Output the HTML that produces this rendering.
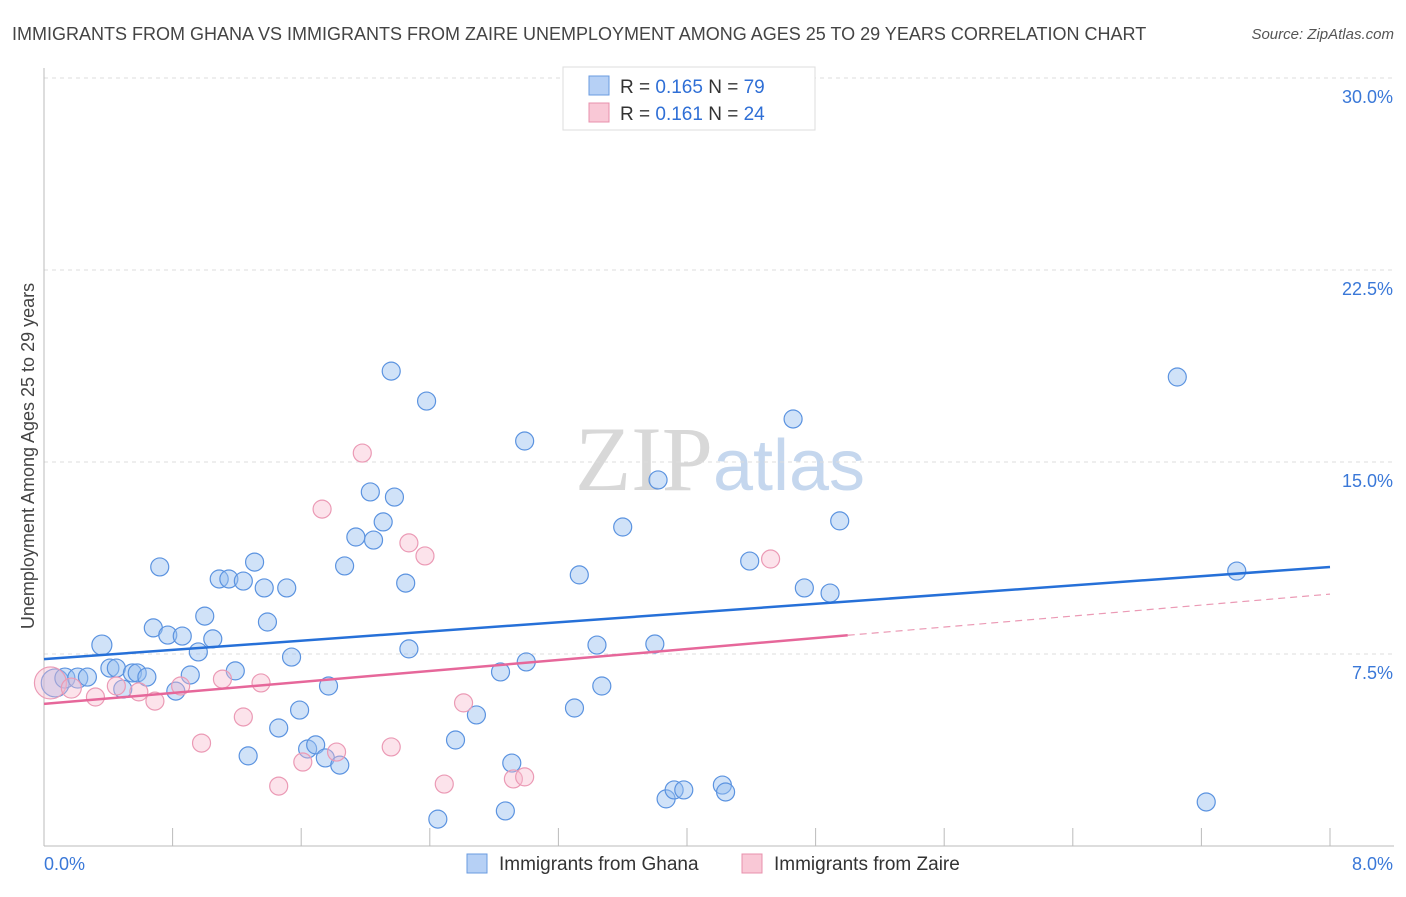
<!DOCTYPE html>
<html><head><meta charset="utf-8"><style>
body{margin:0;background:#fff;font-family:"Liberation Sans",sans-serif}
svg text{font-family:"Liberation Sans",sans-serif}
</style></head><body>
<svg id="chart" width="1406" height="892" viewBox="0 0 1406 892" xmlns="http://www.w3.org/2000/svg">
<text x="12" y="40" font-size="18" fill="#444">IMMIGRANTS FROM GHANA VS IMMIGRANTS FROM ZAIRE UNEMPLOYMENT AMONG AGES 25 TO 29 YEARS CORRELATION CHART</text>
<text x="1394" y="39" font-size="15" fill="#555" text-anchor="end" font-style="italic">Source: ZipAtlas.com</text>
<text x="720" y="490" text-anchor="middle" font-size="92" font-family="Liberation Serif"><tspan fill="#d8d8d8" font-family="Liberation Serif">ZIP</tspan><tspan fill="#c5d7ee" font-family="Liberation Sans" font-size="72">atlas</tspan></text>
<g id="grid"></g>
<g id="axes"></g>
<g id="marks"></g>
<g>
<rect x="563" y="67" width="252" height="63" fill="#fff" stroke="#ddd"/>
<rect x="589" y="76" width="20" height="19" fill="#b6d0f5" stroke="#6a9be0"/>
<rect x="589" y="103" width="20" height="19" fill="#f9c8d6" stroke="#e890ac"/>
<text x="620" y="93" font-size="19" fill="#333">R = <tspan fill="#2f6fd6">0.165</tspan>   N = <tspan fill="#2f6fd6">79</tspan></text>
<text x="620" y="120" font-size="19" fill="#333">R =  <tspan fill="#2f6fd6">0.161</tspan>   N = <tspan fill="#2f6fd6">24</tspan></text>
</g>
<g>
<rect x="467" y="854" width="20" height="19" fill="#b6d0f5" stroke="#6a9be0"/>
<text x="499" y="870" font-size="19" fill="#333">Immigrants from Ghana</text>
<rect x="742" y="854" width="20" height="19" fill="#f9c8d6" stroke="#e890ac"/>
<text x="774" y="870" font-size="19" fill="#333">Immigrants from Zaire</text>
</g>
<text transform="translate(34,456) rotate(-90)" text-anchor="middle" font-size="18" fill="#444">Unemployment Among Ages 25 to 29 years</text>
</svg>
<script>
const yTicks=[7.5,15,22.5,30];
const yTickLabels=["7.5%","15.0%","22.5%","30.0%"];
const xTicks=[0,0.8,1.6,2.4,3.2,4,4.8,5.6,6.4,7.2,8];
const xEndLabels=["0.0%","8.0%"];
const ghanaX=[0.07,0.13,0.21,0.27,0.36,0.41,0.45,0.49,0.55,0.58,0.64,0.68,0.72,0.77,0.82,0.86,0.91,0.96,1.00,1.05,1.09,1.15,1.19,1.24,1.27,1.31,1.37,1.39,1.46,1.51,1.54,1.59,1.64,1.69,1.75,1.77,1.84,1.87,1.94,2.03,2.05,2.11,2.16,2.18,2.25,2.27,2.38,2.45,2.56,2.69,2.84,2.87,2.91,2.99,3.00,3.30,3.33,3.44,3.47,3.60,3.80,3.82,3.87,3.92,3.98,4.22,4.24,4.39,4.66,4.73,4.89,4.95,7.05,7.23,7.42];
const ghanaY=[6.37,6.56,6.56,6.60,7.85,6.95,6.95,6.13,6.76,6.76,6.60,8.52,10.90,8.24,6.05,8.20,6.68,7.58,8.98,8.09,10.43,10.43,6.84,10.35,3.52,11.09,10.08,8.75,4.61,10.08,7.38,5.31,3.79,3.95,3.44,6.25,3.16,10.94,12.07,13.83,11.95,12.66,18.55,13.63,10.27,7.70,17.38,1.05,4.14,5.12,6.80,1.37,3.24,15.82,7.19,5.39,10.59,7.85,6.25,12.46,7.89,14.30,1.84,2.19,2.19,2.38,2.11,11.13,16.68,10.08,9.88,12.70,18.32,1.72,10.74];
const ghanaSize=[14,10,10,9,10,9,9,9,9,9,9,9,9,9,9,9,9,9,9,9,9,9,9,9,9,9,9,9,9,9,9,9,9,9,9,9,9,9,9,9,9,9,9,9,9,9,9,9,9,9,9,9,9,9,9,9,9,9,9,9,9,9,9,9,9,9,9,9,9,9,9,9,9,9,9];
const zaireX=[0.04,0.17,0.32,0.45,0.59,0.69,0.85,0.98,1.11,1.24,1.35,1.46,1.61,1.73,1.82,1.98,2.16,2.27,2.37,2.49,2.61,2.92,2.99,4.52];
const zaireY=[6.37,6.17,5.82,6.25,6.02,5.66,6.25,4.02,6.52,5.04,6.37,2.34,3.28,13.16,3.67,15.35,3.87,11.84,11.33,2.42,5.59,2.62,2.70,11.21];
const zaireSize=[16,10,9,9,9,9,9,9,9,9,9,9,9,9,9,9,9,9,9,9,9,9,9,9];
const ghanaTrend=[7.30,10.90];
const zaireTrend=[5.55,9.84];
const zaireSolidEnd=5.0;

const X0=44,X1=1330,Y0=846,Y1=78;
const xs=v=>X0+(v/8)*(X1-X0);
const ys=v=>Y0-(v/30)*(Y0-Y1);
const NS="http://www.w3.org/2000/svg";
function mk(tag,attrs,parent){const e=document.createElementNS(NS,tag);for(const k in attrs)e.setAttribute(k,attrs[k]);parent.appendChild(e);return e;}
const grid=document.getElementById('grid'),axes=document.getElementById('axes'),marks=document.getElementById('marks');
yTicks.forEach((t,i)=>{
  const g=mk('line',{x1:X0,x2:1394,y1:ys(t),y2:ys(t),stroke:'#ddd','stroke-dasharray':'4,4'},grid);
  
  
  const l=mk('text',{x:1393,y:ys(t)+25,'text-anchor':'end','font-size':18,fill:'#3a78d8'},axes);
  l.textContent=yTickLabels[i];
  
  
});
const ax=mk('line',{x1:X0,x2:X0,y1:68,y2:Y0,stroke:'#bbb'},axes);


const bx=mk('line',{x1:X0,x2:1394,y1:Y0,y2:Y0,stroke:'#bbb'},axes);


xTicks.forEach(t=>{
  const tk=mk('line',{x1:xs(t),x2:xs(t),y1:Y0,y2:Y0-18,stroke:'#bbb'},axes);
  
  
});
const xl0=mk('text',{x:44,y:870,'font-size':18,fill:'#3a78d8'},axes);xl0.textContent=xEndLabels[0];


const xl1=mk('text',{x:1393,y:870,'text-anchor':'end','font-size':18,fill:'#3a78d8'},axes);xl1.textContent=xEndLabels[1];


ghanaX.forEach((x,i)=>{
  const c=mk('circle',{cx:xs(x),cy:ys(ghanaY[i]),r:ghanaSize[i],fill:'rgba(150,190,240,0.45)',stroke:'#5b93e0','stroke-width':1.2},marks);
  
  
});
zaireX.forEach((x,i)=>{
  const c=mk('circle',{cx:xs(x),cy:ys(zaireY[i]),r:zaireSize[i],fill:'rgba(248,185,205,0.4)',stroke:'#eb9ab5','stroke-width':1.2},marks);
  
  
});
const zt=v=>zaireTrend[0]+(zaireTrend[1]-zaireTrend[0])*v/8;
const bl=mk('line',{x1:xs(0),y1:ys(ghanaTrend[0]),x2:xs(8),y2:ys(ghanaTrend[1]),stroke:'#2670d8','stroke-width':2.5},marks);


const pl=mk('line',{x1:xs(0),y1:ys(zt(0)),x2:xs(zaireSolidEnd),y2:ys(zt(zaireSolidEnd)),stroke:'#e6679a','stroke-width':2.5},marks);


const pd=mk('line',{x1:xs(zaireSolidEnd),y1:ys(zt(zaireSolidEnd)),x2:xs(8),y2:ys(zt(8)),stroke:'#eb9ab5','stroke-width':1.2,'stroke-dasharray':'7,5'},marks);


</script>
</body></html>
